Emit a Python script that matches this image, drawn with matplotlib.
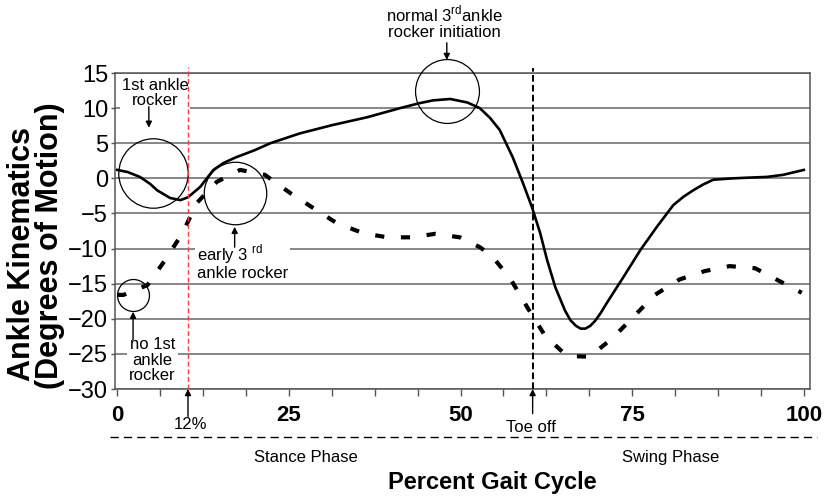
import matplotlib
matplotlib.use('Agg')
import matplotlib.pyplot as plt
import numpy as np

plt.rcParams['font.family'] = ['Liberation Sans', 'DejaVu Sans']
plt.rcParams['mathtext.fontset'] = 'custom'
plt.rcParams['mathtext.rm'] = 'Liberation Sans'

# normal ankle (solid line)
normal_x = [0, 1.5, 3.3, 4.8, 5.8, 7.7, 9.2, 10.3, 12.1, 14, 15.5, 17.3, 20, 22.3,
            26.6, 31.4, 36.4, 41.2, 44, 46, 48.5, 51, 52.8, 54.3, 55.7, 57.6, 59.1,
            60.4, 61.6, 62.6, 63.8, 65.2, 66.0, 66.8, 67.5, 68.2, 68.9, 69.6, 70.4,
            71.4, 73.7, 76.2, 78.6, 81.0, 82.5, 83.9, 85.3, 86.8, 89.7, 92, 94.6, 97,
            100]
normal_y = [1.2, 0.9, 0.2, -0.8, -1.7, -2.8, -3.1, -2.7, -1.2, 1.2, 2.2, 3.0, 4.0, 5.0,
            6.4, 7.6, 8.7, 10.0, 10.7, 11.1, 11.3, 10.8, 10.0, 8.6, 6.9, 3.0, -0.7,
            -4.1, -7.8, -11.6, -15.5, -18.8, -20.2, -21.0, -21.4, -21.4, -21.0, -20.3,
            -19.2, -17.6, -14.1, -10.2, -6.9, -3.8, -2.6, -1.7, -0.9, -0.2, 0.0, 0.1,
            0.2, 0.5, 1.2]

# toe walker (dashed line)
toe_x = [0, 0.9, 4.4, 7, 9.5, 11.6, 14.5, 17.9, 21.5, 25.2, 28.5, 32, 35.8, 39.3, 43,
         46.3, 49.9, 52.8, 54.5, 57.2, 59.8, 62.3, 65.5, 68.8, 72.2, 75.1, 78.3, 81.9,
         85.6, 89.2, 92.9, 96.2, 99.7]
toe_y = [-16.6, -16.6, -15.2, -11.6, -7.8, -3.5, -0.5, 1.2, 0.5, -2.1, -4.2, -6.4, -7.8,
         -8.4, -8.4, -7.9, -8.4, -9.8, -11.0, -14.2, -18.5, -22.4, -25.3, -25.4, -22.7,
         -19.8, -16.6, -14.4, -13.2, -12.5, -12.8, -14.5, -16.3]

y_ticks = [15, 10, 5, 0, -5, -10, -15, -20, -25, -30]
x_ticks = [0, 25, 50, 75, 100]
x_minor = np.arange(0, 100.1, 6.25)

rocker_x = 10.3   # "12%" marker
toe_off_x = 60.5

# circled events: x, y, diameter (pt)
circles = [(5.15, 0.75, 50), (17.2, -2.1, 45), (48.0, 12.4, 46), (2.3, -16.6, 23)]

fig = plt.figure(figsize=(8.26, 4.96), dpi=100)
ax = fig.add_axes([115 / 826, 107 / 496, 695 / 826, 316 / 496])

ax.set_xlim(-0.33, 100.9)
ax.set_ylim(-30, 15)
ax.set_yticks(y_ticks)
ax.set_xticks(x_ticks)
ax.set_xticks(x_minor, minor=True)
ax.set_axisbelow(True)
ax.grid(axis='y', color='#666666', lw=1.1)
for s in ax.spines.values():
    s.set_color('#555555')
    s.set_linewidth(1.1)

ax.tick_params(axis='y', direction='out', length=3, width=1, colors='#555555',
               labelcolor='k', labelsize=17, pad=2)
ax.tick_params(axis='x', which='both', direction='out', length=5, width=1,
               colors='#555555', labelcolor='k', labelsize=16, pad=6.5)
for lab in ax.get_xticklabels():
    lab.set_fontweight('bold')

ax.plot(normal_x, normal_y, color='k', lw=1.9, solid_joinstyle='round', zorder=3)
ax.plot(toe_x, toe_y, color='k', lw=3.0, dashes=(2.2, 4.0), zorder=3)

for cx, cy, d in circles:
    ax.plot([cx], [cy], 'o', ms=d, mfc='none', mec='k', mew=0.9, clip_on=False, zorder=4)

xt = ax.get_xaxis_transform()
ax.plot([rocker_x, rocker_x], [0, 1.019], transform=xt, color='#ff3b3b', lw=1.0,
        dashes=(3.5, 2), clip_on=False, zorder=5)
ax.plot([toe_off_x, toe_off_x], [0, 1.016], transform=xt, color='k', lw=1.4,
        dashes=(3.4, 1.7), clip_on=False, zorder=5)
ax.plot([-1.06, 101.9], [-0.152, -0.152], transform=xt, color='k', lw=1.0,
        dashes=(6, 3.6), clip_on=False)

arrow = dict(arrowstyle='-|>', color='k', lw=1, mutation_scale=9, shrinkA=0, shrinkB=0)
box = dict(fc='white', ec='none', pad=1.5)

ax.text(5.5, 12.15, '1st ankle\nrocker', ha='center', va='center', fontsize=12,
        linespacing=1.05, bbox=box, zorder=3)
ax.annotate('', xy=(4.6, 7.2), xytext=(4.6, 10.2), arrowprops=arrow)

ax.text(11.6, -11.9, 'early 3 $^{\\rm rd}$\nankle rocker', ha='left', va='center',
        fontsize=12, linespacing=1.0, bbox=box, zorder=3)
ax.annotate('', xy=(17.1, -6.9), xytext=(17.1, -9.8), arrowprops=arrow)

ax.text(5.1, -25.9, 'no 1st\nankle\nrocker', ha='center', va='center', fontsize=12,
        linespacing=1.05, bbox=box, zorder=3)
ax.annotate('', xy=(2.3, -19.0), xytext=(2.3, -23.0), arrowprops=arrow)

ax.text(47.6, 22.3, 'normal 3$^{\\rm rd}$ankle\nrocker initiation', ha='center',
        va='center', fontsize=12, linespacing=1.05, clip_on=False)
ax.annotate('', xy=(48.0, 16.85), xytext=(48.0, 19.3), arrowprops=arrow,
            annotation_clip=False)

ax.annotate('', xy=(rocker_x, 0), xytext=(rocker_x, -0.087), xycoords=xt,
            textcoords=xt, arrowprops=arrow, annotation_clip=False)
ax.text(10.7, -0.111, '12%', transform=xt, ha='center', va='center', fontsize=12)
ax.annotate('', xy=(toe_off_x, 0), xytext=(toe_off_x, -0.078), xycoords=xt,
            textcoords=xt, arrowprops=arrow, annotation_clip=False)
ax.text(60.2, -0.123, 'Toe off', transform=xt, ha='center', va='center', fontsize=12)

ax.text(27.4, -0.218, 'Stance Phase', transform=xt, ha='center', va='center', fontsize=12)
ax.text(80.6, -0.218, 'Swing Phase', transform=xt, ha='center', va='center', fontsize=12)

fig.text(492 / 826, 1 - 482 / 496, 'Percent Gait Cycle', ha='center', va='center',
         fontsize=17, fontweight='bold')
fig.text(22 / 826, 1 - 254 / 496, 'Ankle Kinematics', rotation=90, ha='center',
         va='center', fontsize=22, fontweight='bold')
fig.text(50 / 826, 1 - 246 / 496, '(Degrees of Motion)', rotation=90, ha='center',
         va='center', fontsize=22, fontweight='bold')

fig.savefig('out.png', dpi=100)
